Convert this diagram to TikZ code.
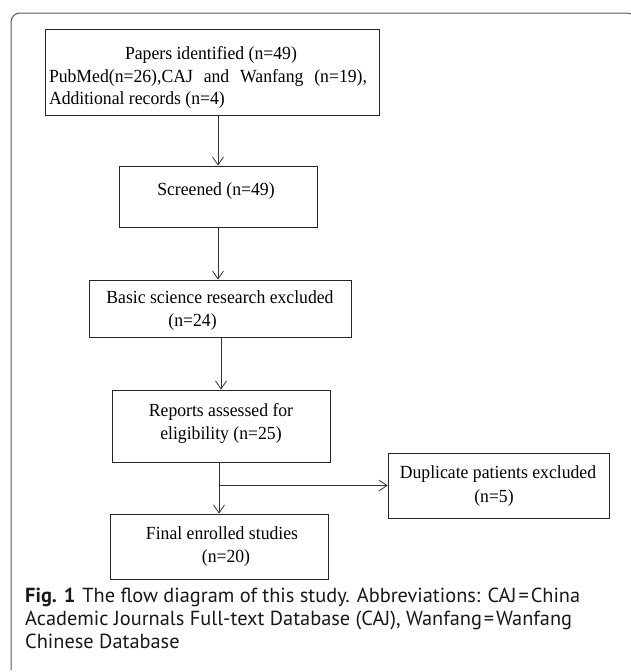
\documentclass[tikz,border=0pt]{standalone}
\usepackage{fontspec}
\setmainfont{Liberation Serif}[FakeStretch=0.955]
\newfontfamily\capfont{PT Sans}
\usetikzlibrary{arrows.meta}
\begin{document}
\begin{tikzpicture}[x=1pt,y=-1pt,
  box/.style={draw=black!85, line width=0.8pt, inner sep=0pt},
  txt/.style={inner sep=0pt, align=center, font=\fontsize{18.5}{23}\selectfont},
  arr/.style={draw=black!80, line width=0.8pt, -{Straight Barb[length=8pt,width=11pt]}},
  frame/.style={draw=black!65, line width=1pt, rounded corners=9pt}]
\useasboundingbox (0,0) rectangle (630,672);
% outer frame
\draw[frame] (11,670) -- (11,13) -- (636,13) -- (636,25);
% boxes
\node[box, minimum width=334pt, minimum height=86pt] (b1) at (212,72) {};
\node[box, minimum width=198pt, minimum height=61pt] (b2) at (218,196.5) {};
\node[box, minimum width=262pt, minimum height=57pt] (b3) at (220,308.5) {};
\node[box, minimum width=218pt, minimum height=72pt] (b4) at (221,426) {};
\node[box, minimum width=221pt, minimum height=65pt] (b5) at (498.5,485.5) {};
\node[box, minimum width=218pt, minimum height=65pt] (b6) at (219,546.5) {};
% texts
\node[txt, font=\fontsize{18.5}{22.5}\selectfont] (t1) at (208,77.5)
  {\hspace*{6pt}Papers identified (n=49)\\\makebox[318pt][s]{PubMed(n=26),CAJ and Wanfang (n=19),}\\\makebox[318pt][l]{Additional records (n=4)}};
\node[txt] (t2) at (216,191) {Screened (n=49)};
\node[txt, align=left] (t3) at (220,311) {Basic science research excluded\\\hspace*{62pt}(n=24)};
\node[txt] (t4) at (221,423.5) {Reports assessed for\\eligibility (n=25)};
\node[txt, font=\fontsize{18.5}{24}\selectfont] (t5) at (498,486) {Duplicate patients excluded\\\hspace*{-8pt}(n=5)};
\node[txt] (t6) at (222,546.5) {Final enrolled studies\\\hspace*{8pt}(n=20)};
% connectors
\draw[arr] ([xshift=6pt]b1.south) -- ([xshift=6pt]b1.south |- b2.north);
\draw[arr] (b2.south) -- (b2.south |- b3.north);
\draw[arr] (b4.north |- b3.south) -- (b4.north);
\draw[arr] (b6.north |- b4.south) -- (b6.north);
\draw[arr] (b6.north |- b5.west) -- (b5.west);
% caption
\node[anchor=north west, inner sep=0pt, align=left, text=black!90,
  font=\capfont\fontsize{20.35}{23}\selectfont] (cap) at (25,587.5)
  {\textbf{Fig. 1}\hspace{7pt}The flow diagram of this study. Abbreviations: CAJ\hspace{2pt}=\hspace{2pt}China\\
   Academic Journals Full-text Database (CAJ), Wanfang\hspace{2pt}=\hspace{2pt}Wanfang\\
   Chinese Database};
\end{tikzpicture}
\end{document}
